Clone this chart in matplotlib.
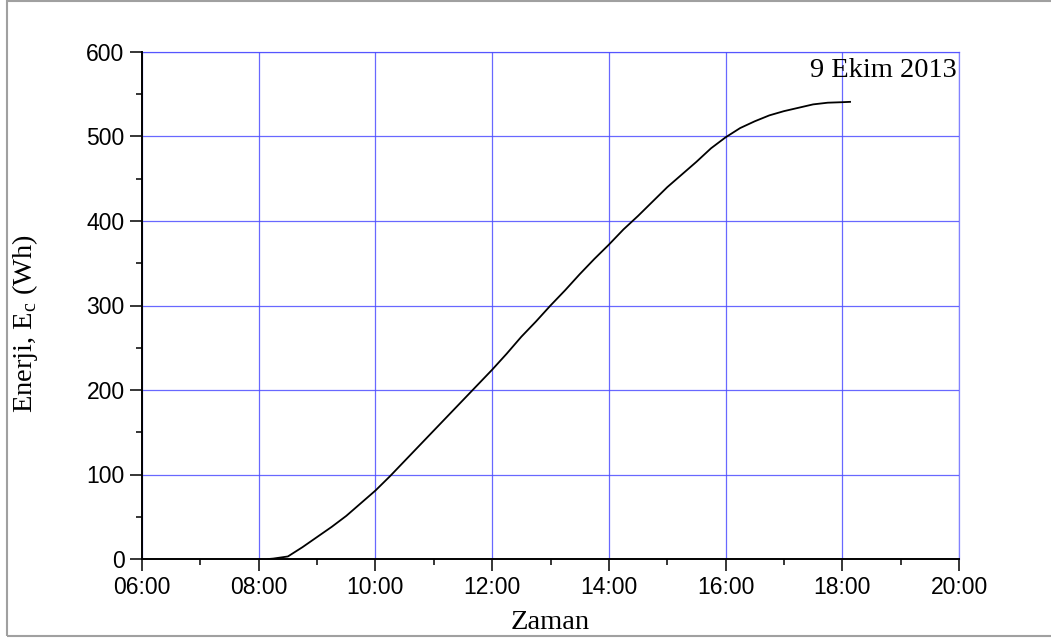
import matplotlib
matplotlib.use("Agg")
import matplotlib.pyplot as plt
from matplotlib.patches import Rectangle
from matplotlib.ticker import MultipleLocator

# energy curve
zaman = ["08:10", "08:15", "08:30", "08:45", "09:00", "09:15", "09:30", "09:45",
         "10:00", "10:15", "10:30", "10:45", "11:00", "11:15", "11:30", "11:45",
         "12:00", "12:15", "12:30", "12:45", "13:00", "13:15", "13:30", "13:45",
         "14:00", "14:15", "14:30", "14:45", "15:00", "15:15", "15:30", "15:45",
         "16:00", "16:15", "16:30", "16:45", "17:00", "17:15", "17:30", "17:45",
         "18:00", "18:08"]
enerji = [0, 0.5, 3, 14, 26, 38, 51, 66,
          81, 98, 116, 134, 152, 170, 188, 206,
          224, 243, 263, 281, 300, 318, 337, 355,
          372, 390, 406, 423, 440, 455, 470, 486,
          499, 510, 518, 525, 530, 534, 538, 540,
          540.6, 541]
x_ticks = ["06:00", "08:00", "10:00", "12:00", "14:00", "16:00", "18:00", "20:00"]
y_ticks = [0, 100, 200, 300, 400, 500, 600]

def saat(s):
    h, m = s.split(":")
    return int(h) + int(m) / 60.0

t = [saat(s) for s in zaman]

fig = plt.figure(figsize=(10.51, 6.41), dpi=100)
ax = fig.add_axes([142/1051, 1-559/641, 817/1051, 507/641])

grid_c = "#4d4dff"
ax.plot(t, enerji, color="black", lw=1.3, zorder=3)

ax.set_xlim(6, 20)
ax.set_ylim(0, 600)
ax.set_xticks([saat(s) for s in x_ticks])
ax.set_xticklabels(x_ticks)
ax.set_yticks(y_ticks)
ax.xaxis.set_minor_locator(MultipleLocator(1))
ax.yaxis.set_minor_locator(MultipleLocator(50))
ax.grid(True, which="major", color=grid_c, lw=0.9, alpha=0.85)

for s in ["left", "bottom"]:
    ax.spines[s].set_linewidth(1.4)
    ax.spines[s].set_zorder(4)
for s in ["top", "right"]:
    ax.spines[s].set_color(grid_c)
    ax.spines[s].set_alpha(0.7)
    ax.spines[s].set_linewidth(0.9)

ax.tick_params(which="major", direction="out", length=8.6, width=1.1,
               labelsize=16.5, pad=4, top=False, right=False)
ax.tick_params(which="minor", direction="out", length=4.3, width=1.1,
               top=False, right=False)
for lab in ax.get_xticklabels() + ax.get_yticklabels():
    lab.set_fontfamily("Liberation Sans")

ax.set_xlabel("Zaman", fontfamily="Liberation Serif", fontsize=20.5)
ax.set_ylabel(r"Enerji, E$_\mathregular{c}$ (Wh)", fontfamily="Liberation Serif", fontsize=20.5)
ax.xaxis.set_label_coords(0.5, -0.1)
ax.yaxis.set_label_coords(-0.125, 0.464)

ax.text(0.9975, 0.9507, "9 Ekim 2013", transform=ax.transAxes, ha="right",
        va="baseline", fontfamily="Liberation Serif", fontsize=20.5)

# gray outer frame
fig.patches.append(Rectangle((7/1051, 1-636/641), 1.2, 635/641, transform=fig.transFigure,
                             fill=False, edgecolor="#a0a0a0", lw=1.5))

fig.savefig("out.png", dpi=100)
